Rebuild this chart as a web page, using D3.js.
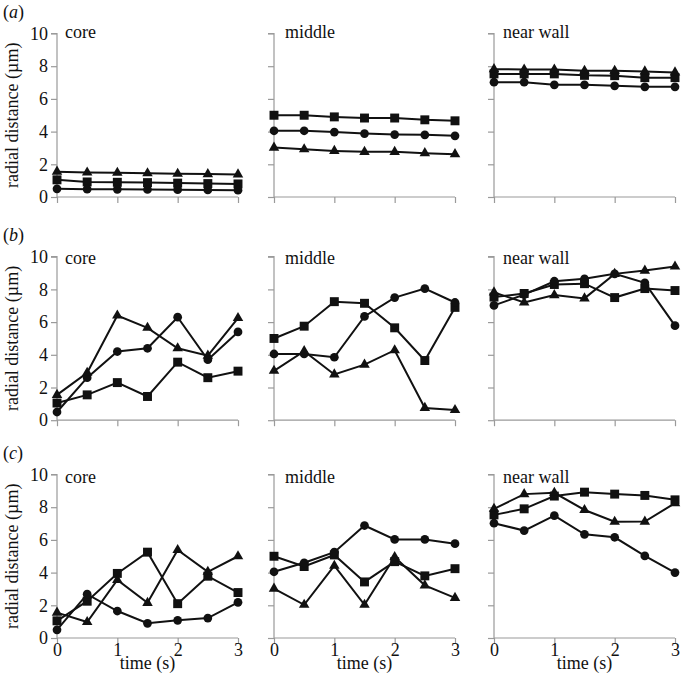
<!DOCTYPE html>
<html><head><meta charset="utf-8">
<script src="https://cdn.jsdelivr.net/npm/d3@7"></script>
<style>
body{margin:0;background:#fff;font-family:"Times New Roman",serif}
svg{display:block}
text{font-family:"Times New Roman",serif;font-size:18px;fill:#111}
</style>
</head><body>
<svg id="chart" width="681" height="689"></svg>
<script>
// ---- data ----
const times = [0, 0.5, 1, 1.5, 2, 2.5, 3];
const xTickValues = [0, 1, 2, 3];
const yTickValues = [0, 2, 4, 6, 8, 10];
const rowLabels = ["a", "b", "c"];
const regionLabels = ["core", "middle", "near wall"];
const xTitle = "time (s)";
const yTitle = "radial distance (µm)";

// row (a)
const aCoreTri   = [1.55, 1.5, 1.48, 1.45, 1.42, 1.4, 1.38];
const aCoreSq    = [1.05, 0.92, 0.9, 0.88, 0.85, 0.82, 0.8];
const aCoreCirc  = [0.5, 0.48, 0.47, 0.46, 0.45, 0.43, 0.42];
const aMidSq     = [5.0, 5.0, 4.9, 4.83, 4.83, 4.72, 4.66];
const aMidCirc   = [4.05, 4.05, 3.97, 3.88, 3.82, 3.8, 3.74];
const aMidTri    = [3.02, 2.92, 2.82, 2.76, 2.76, 2.68, 2.62];
const aWallTri   = [7.82, 7.8, 7.8, 7.72, 7.72, 7.68, 7.62];
const aWallSq    = [7.53, 7.53, 7.53, 7.44, 7.42, 7.3, 7.3];
const aWallCirc  = [7.02, 7.02, 6.86, 6.86, 6.8, 6.74, 6.74];
// row (b)
const bCoreTri   = [1.55, 2.9, 6.4, 5.65, 4.4, 3.95, 6.25];
const bCoreSq    = [1.05, 1.55, 2.3, 1.45, 3.55, 2.6, 3.0];
const bCoreCirc  = [0.5, 2.6, 4.2, 4.4, 6.3, 3.7, 5.4];
const bMidSq     = [5.0, 5.75, 7.25, 7.15, 5.65, 3.65, 6.9];
const bMidCirc   = [4.05, 4.05, 3.85, 6.35, 7.5, 8.05, 7.2];
const bMidTri    = [3.02, 4.22, 2.8, 3.4, 4.28, 0.75, 0.62];
const bWallTri   = [7.82, 7.2, 7.65, 7.45, 8.95, 9.15, 9.4];
const bWallSq    = [7.53, 7.75, 8.3, 8.35, 7.5, 8.05, 7.93];
const bWallCirc  = [7.02, 7.68, 8.5, 8.65, 8.95, 8.4, 5.78];
// row (c)
const cCoreTri   = [1.55, 0.98, 3.55, 2.15, 5.38, 4.05, 5.0];
const cCoreSq    = [1.05, 2.25, 3.95, 5.25, 2.1, 3.78, 2.78];
const cCoreCirc  = [0.5, 2.68, 1.65, 0.9, 1.08, 1.22, 2.18];
const cMidSq     = [5.0, 4.37, 5.08, 3.43, 4.67, 3.8, 4.24];
const cMidCirc   = [4.05, 4.6, 5.25, 6.88, 6.03, 6.03, 5.77];
const cMidTri    = [3.02, 2.03, 4.42, 2.03, 4.95, 3.22, 2.45];
const cWallTri   = [7.9, 8.8, 8.88, 7.83, 7.11, 7.12, 8.25];
const cWallSq    = [7.53, 7.9, 8.68, 8.92, 8.8, 8.72, 8.45];
const cWallCirc  = [7.02, 6.57, 7.48, 6.34, 6.16, 5.02, 4.0];

const panels = [
  [ {sq:aCoreSq, circ:aCoreCirc, tri:aCoreTri}, {sq:aMidSq, circ:aMidCirc, tri:aMidTri}, {sq:aWallSq, circ:aWallCirc, tri:aWallTri} ],
  [ {sq:bCoreSq, circ:bCoreCirc, tri:bCoreTri}, {sq:bMidSq, circ:bMidCirc, tri:bMidTri}, {sq:bWallSq, circ:bWallCirc, tri:bWallTri} ],
  [ {sq:cCoreSq, circ:cCoreCirc, tri:cCoreTri}, {sq:cMidSq, circ:cMidCirc, tri:cMidTri}, {sq:cWallSq, circ:cWallCirc, tri:cWallTri} ]
];

// ---- layout ----
const colX = [57, 274, 494];
const rowTop = [33.5, 256.7, 474.5];
const plotW = 181, plotH = 163.5;
const labelDx = [8, 11, 9];
const labelDy = [4, 7.5, 8.3];
const axisColor = "#9a9a9a";

const svg = d3.select("#chart");
const symbols = {
  sq: d3.symbol().type(d3.symbolSquare).size(80),
  circ: d3.symbol().type(d3.symbolCircle).size(60),
  tri: d3.symbol().type(d3.symbolTriangle).size(48)
};

panels.forEach((row, r) => {
  const lab = svg.append("text").attr("x", 3).attr("y", rowTop[r] - 16);
  lab.append("tspan").text("(");
  lab.append("tspan").style("font-style", "italic").text(rowLabels[r]);
  lab.append("tspan").text(")");

  row.forEach((panel, c) => {
    const x = d3.scaleLinear().domain([0, 3]).range([colX[c], colX[c] + plotW]);
    const y = d3.scaleLinear().domain([0, 10]).range([rowTop[r] + plotH, rowTop[r]]);
    const g = svg.append("g");

    const ya = g.append("g").attr("transform", `translate(${colX[c]},0)`)
      .call(d3.axisLeft(y).tickValues(yTickValues).tickSize(6).tickPadding(3)
        .tickFormat(c === 0 ? d3.format("d") : () => ""));
    const xa = g.append("g").attr("transform", `translate(0,${rowTop[r] + plotH})`)
      .call(d3.axisBottom(x).tickValues(xTickValues).tickSize(6).tickPadding(3)
        .tickFormat(r === 2 ? d3.format("d") : () => ""));
    [ya, xa].forEach(a => {
      a.attr("font-family", null).attr("font-size", null);
      a.select(".domain").attr("stroke", axisColor).attr("stroke-width", 1.2);
      a.selectAll(".tick line").attr("stroke", axisColor).attr("stroke-width", 1.2);
      a.selectAll("text").attr("fill", null);
    });
    ya.select(".domain").attr("d", `M-6,${y(10)}H0V${y(0)}`);
    xa.select(".domain").attr("d", `M${x(0)},0H${x(3)}`);
    xa.selectAll("text").attr("y", 18).attr("dy", 0);

    g.append("text")
      .attr("x", colX[c] + labelDx[c]).attr("y", rowTop[r] + labelDy[r])
      .text(regionLabels[c]);

    ["sq", "circ", "tri"].forEach(key => {
      const vals = panel[key];
      const pts = times.map((t, i) => [t, vals[i]]);
      g.append("path")
        .attr("d", d3.line().x(d => x(d[0])).y(d => y(d[1]))(pts))
        .attr("fill", "none").attr("stroke", "#111").attr("stroke-width", 2);
      g.selectAll(null).data(pts).enter().append("path")
        .attr("d", symbols[key]())
        .attr("transform", d => `translate(${x(d[0])},${y(d[1])})`)
        .attr("fill", "#111");
    });

    if (r === 2) {
      svg.append("text")
        .attr("x", colX[c] + plotW / 2).attr("y", 669)
        .attr("text-anchor", "middle")
        .text(xTitle);
    }
  });

  svg.append("text")
    .attr("transform", `translate(18,${rowTop[r] + plotH / 2}) rotate(-90)`)
    .attr("text-anchor", "middle")
    .text(yTitle);
});
</script>
</body></html>
